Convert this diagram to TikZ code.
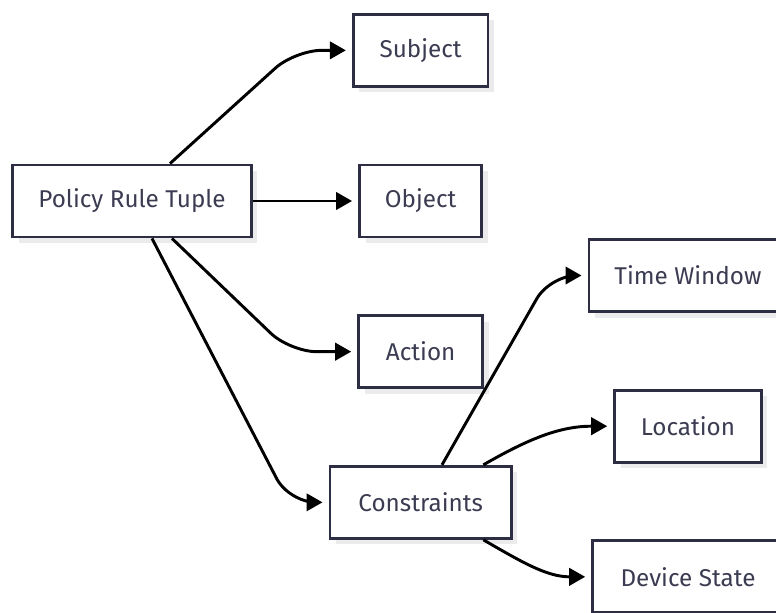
\documentclass[tikz,border=0pt]{standalone}
\usepackage{fontspec}
\setmainfont{Fira Sans}
\usetikzlibrary{arrows.meta,shadows,positioning}
\definecolor{boxline}{HTML}{2D2D44}
\definecolor{boxtext}{HTML}{3B3B52}
\definecolor{boxshadow}{HTML}{EBEBEB}

\begin{document}
\begin{tikzpicture}[x=0.75pt, y=-0.75pt, node distance=113pt,
        box/.style={draw=boxline, line width=2.2pt, fill=white, rectangle,
            minimum height=54pt, inner xsep=19pt, text=boxtext,
            font=\fontsize{18.2}{21}\selectfont,
            drop shadow={shadow xshift=4.5pt, shadow yshift=-4.5pt, fill=boxshadow, opacity=1}},
        link/.style={draw=black, line width=2.2pt, -{Triangle[length=12pt,width=13pt]},
            shorten >=4.5pt, rounded corners=20pt}]

        \useasboundingbox (0,0) rectangle (776,612);

        % Policy rule tuple and its parts
        \node[box, minimum width=179pt] (tuple) at (132,201) {Policy Rule Tuple};
        \node[box, minimum width=91.5pt, right of=tuple, node distance=216.5pt] (object) {Object};
        \node[box, minimum width=101pt, above of=object] (subject) {Subject};
        \node[box, minimum width=93pt, below of=object] (action) {Action};
        \node[box, minimum width=136pt, below of=action] (constraints) {Constraints};

        % Constraint kinds
        \node[box, minimum width=148.5pt] (timewindow) at (688,275.5) {Time Window};
        \node[box, minimum width=110pt, below of=timewindow] (location) {Location};
        \node[box, minimum width=143pt, below of=location] (devicestate) {Device State};

        % Tuple to parts
        \draw[link] ([xshift=28.5pt]tuple.north) -- (subject -| 295,0) -- (subject);
        \draw[link] (tuple) -- (object);
        \draw[link] ([xshift=30pt]tuple.south) -- (action -| 290,0) -- (action);
        \draw[link] ([xshift=15pt]tuple.south) -- (constraints -| 289,0) -- (constraints);

        % Constraints to kinds
        \draw[link] ([xshift=16pt]constraints.north) -- (timewindow -| 550,0) -- (timewindow);
        \draw[link] ([xshift=47pt]constraints.north) to[out=30, in=180] (location);
        \draw[link] ([xshift=47pt]constraints.south) to[out=-30, in=180] (devicestate);

        \end{tikzpicture}
\end{document}
